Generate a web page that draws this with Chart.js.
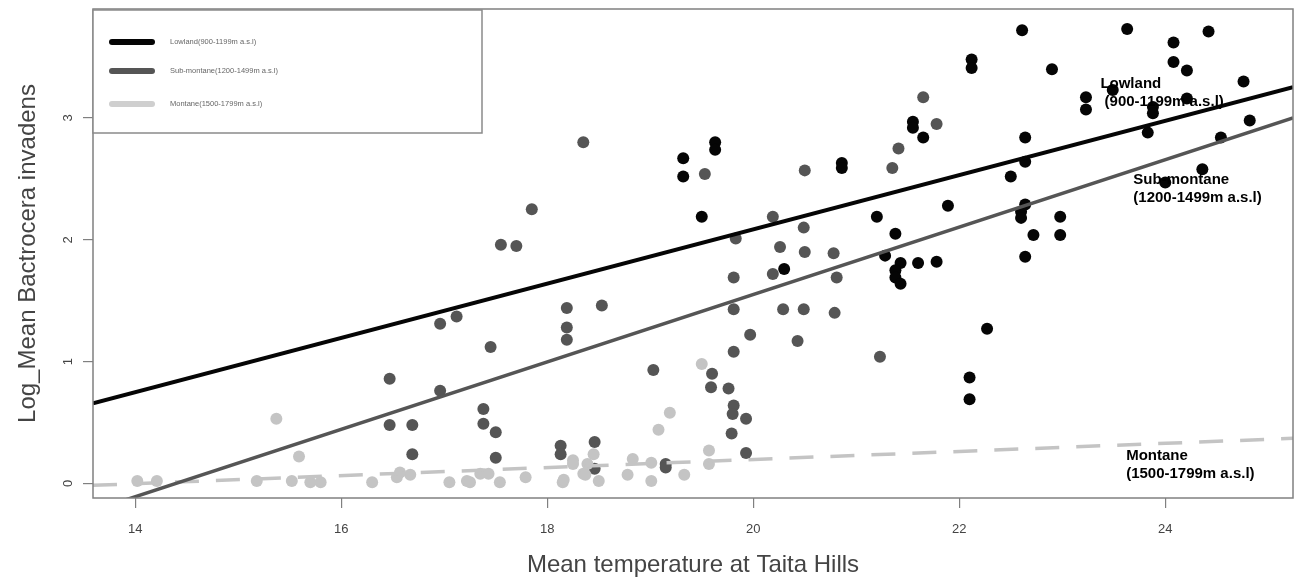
<!DOCTYPE html>
<html><head><meta charset="utf-8">
<script src="https://cdn.jsdelivr.net/npm/chart.js@4/dist/chart.umd.min.js"></script>
<style>html,body{margin:0;padding:0;background:#fff}</style>
</head><body>
<canvas id="c" width="1295" height="580"></canvas>
<script>
// ---- data ----
const seriesNames = ['Lowland(900-1199m a.s.l)', 'Sub-montane(1200-1499m a.s.l)', 'Montane(1500-1799m a.s.l)'];
const xTitle = 'Mean temperature at Taita Hills';
const yTitle = 'Log_Mean Bactrocera invadens';
const xTicks = [14, 16, 18, 20, 22, 24];
const yTicks = [0, 1, 2, 3];

const lowlandX = [22.61,23.63,24.42,24.08,24.08,24.21,22.12,22.12,22.90,24.76,23.23,23.23,23.49,24.21,23.88,23.88,24.82,23.83,24.54,24.36,24.00,22.64,22.64,22.50,21.55,21.55,21.65,20.86,20.86,21.89,21.20,21.38,22.64,22.60,22.60,22.98,22.72,22.98,22.64,20.30,21.43,21.38,21.38,21.43,21.60,21.78,21.28,22.27,22.10,22.10,19.63,19.63,19.32,19.32,19.50];
const lowlandY = [3.72,3.73,3.71,3.62,3.46,3.39,3.48,3.41,3.40,3.30,3.17,3.07,3.23,3.16,3.09,3.04,2.98,2.88,2.84,2.58,2.47,2.84,2.64,2.52,2.97,2.92,2.84,2.63,2.59,2.28,2.19,2.05,2.29,2.23,2.18,2.19,2.04,2.04,1.86,1.76,1.81,1.75,1.69,1.64,1.81,1.82,1.87,1.27,0.87,0.69,2.80,2.74,2.67,2.52,2.19];

const subX = [21.65,21.78,21.41,21.35,20.50,20.49,20.26,20.50,20.78,20.81,20.29,20.49,20.79,20.43,21.23,20.19,18.35,17.85,17.55,17.70,19.53,19.83,19.81,20.19,18.19,18.53,18.19,18.19,17.45,19.81,19.97,19.81,19.03,19.60,19.59,19.76,19.81,19.80,19.93,19.79,19.93,17.38,17.38,17.50,17.50,18.13,18.13,18.46,18.46,19.15,19.15,17.12,16.96,16.47,16.96,16.47,16.69,16.69];
const subY = [3.17,2.95,2.75,2.59,2.57,2.10,1.94,1.90,1.89,1.69,1.43,1.43,1.40,1.17,1.04,2.19,2.80,2.25,1.96,1.95,2.54,2.01,1.69,1.72,1.44,1.46,1.28,1.18,1.12,1.43,1.22,1.08,0.93,0.90,0.79,0.78,0.64,0.57,0.53,0.41,0.25,0.61,0.49,0.42,0.21,0.31,0.24,0.34,0.12,0.16,0.13,1.37,1.31,0.86,0.76,0.48,0.48,0.24];

const montX = [15.37,15.59,14.02,14.21,15.18,15.52,15.70,15.80,16.30,16.54,16.67,17.05,17.22,17.25,17.54,17.79,18.15,18.25,18.35,17.35,16.57,19.50,19.19,19.08,19.57,19.57,17.43,18.25,18.16,18.37,18.45,18.50,18.39,18.83,19.01,18.78,19.01,19.33];
const montY = [0.53,0.22,0.02,0.02,0.02,0.02,0.01,0.01,0.01,0.05,0.07,0.01,0.02,0.01,0.01,0.05,0.01,0.19,0.08,0.08,0.09,0.98,0.58,0.44,0.27,0.16,0.08,0.16,0.03,0.07,0.24,0.02,0.16,0.20,0.17,0.07,0.02,0.07];

// fitted regression lines, read at the two plot edges
const fitX = [13.59, 25.24];
const lowlandFit = [0.657, 3.254];
const subFit = [-0.223, 3.0];
const montFit = [-0.016, 0.37];

const annotations = [
  ['Lowland', ' (900-1199m a.s.l)'],
  ['Sub-montane', '(1200-1499m a.s.l)'],
  ['Montane', '(1500-1799m a.s.l)']
];

// ---- styles ----
const C_LOW = '#050505', C_SUB = '#555555', C_MON = '#c4c4c4';
const FONT = '"Liberation Sans", Arial, sans-serif';
const pts = (xs, ys) => xs.map((x, i) => ({x, y: ys[i]}));

const boxPlugin = {
  id: 'box',
  afterDraw(chart) {
    const {ctx, chartArea: a} = chart;
    ctx.save();
    ctx.strokeStyle = '#808080';
    ctx.lineWidth = 1.5;
    ctx.strokeRect(a.left, a.top, a.right - a.left, a.bottom - a.top);
    // legend box
    const lx = a.left, ly = a.top + 1, lw = 389, lh = 123;
    ctx.fillStyle = '#fff';
    ctx.fillRect(lx, ly, lw, lh);
    ctx.strokeStyle = '#8a8a8a';
    ctx.lineWidth = 1.5;
    ctx.strokeRect(lx, ly, lw, lh);
    const cols = [C_LOW, C_SUB, '#cfcfcf'];
    const ys = [32, 61, 94];
    ctx.lineCap = 'round';
    ctx.font = '7.5px ' + FONT;
    ctx.textBaseline = 'middle';
    seriesNames.forEach((n, i) => {
      ctx.strokeStyle = cols[i];
      ctx.lineWidth = 6;
      ctx.beginPath();
      ctx.moveTo(lx + 19, ly + ys[i]);
      ctx.lineTo(lx + 59, ly + ys[i]);
      ctx.stroke();
      ctx.fillStyle = '#666';
      ctx.fillText(n, lx + 77, ly + ys[i]);
    });
    ctx.restore();
  },
  afterDatasetsDraw(chart) {
    const {ctx} = chart;
    const xs = chart.scales.x, ys = chart.scales.y;
    // anchor of each label in data units
    const anchors = [[23.37, 3.28], [23.69, 2.49], [23.62, 0.23]];
    ctx.save();
    ctx.fillStyle = '#000';
    ctx.font = 'bold 15px ' + FONT;
    ctx.textBaseline = 'middle';
    annotations.forEach((lines, i) => {
      const px = xs.getPixelForValue(anchors[i][0]);
      const py = ys.getPixelForValue(anchors[i][1]);
      lines.forEach((t, j) => ctx.fillText(t, px, py + j * 18));
    });
    ctx.restore();
  }
};

new Chart(document.getElementById('c'), {
  type: 'scatter',
  data: {
    datasets: [
      {label: seriesNames[0] + ' fit', type: 'line', data: pts(fitX, lowlandFit), borderColor: C_LOW, borderWidth: 4, pointRadius: 0, fill: false, order: 0, clip: 0},
      {label: seriesNames[1] + ' fit', type: 'line', data: pts(fitX, subFit), borderColor: C_SUB, borderWidth: 3.5, pointRadius: 0, fill: false, order: 0, clip: 0},
      {label: seriesNames[2] + ' fit', type: 'line', data: pts(fitX, montFit), borderColor: C_MON, borderWidth: 3.5, borderDash: [24, 17], pointRadius: 0, fill: false, order: 0, clip: 0},
      {label: seriesNames[2], data: pts(montX, montY), backgroundColor: C_MON, borderWidth: 0, pointRadius: 6, order: 1},
      {label: seriesNames[1], data: pts(subX, subY), backgroundColor: C_SUB, borderWidth: 0, pointRadius: 6, order: 2},
      {label: seriesNames[0], data: pts(lowlandX, lowlandY), backgroundColor: C_LOW, borderWidth: 0, pointRadius: 6, order: 3}
    ]
  },
  options: {
    responsive: false,
    animation: false,
    devicePixelRatio: 1,
    layout: {autoPadding: false, padding: {top: 9, right: 2, left: 0, bottom: 0}},
    plugins: {legend: {display: false}, tooltip: {enabled: false}},
    scales: {
      x: {
        type: 'linear', min: 13.59, max: 25.24,
        afterBuildTicks(s) { s.ticks = xTicks.map(v => ({value: v})); },
        afterFit(s) { s.height = 82; s.paddingLeft = 0; s.paddingRight = 0; },
        border: {display: false},
        grid: {drawOnChartArea: false, drawTicks: true, tickLength: 10, color: '#808080', lineWidth: 1.2},
        ticks: {padding: 14, color: '#444', font: {size: 13, family: FONT}, maxRotation: 0},
        title: {display: true, text: xTitle, color: '#444', font: {size: 24, family: FONT}, padding: {top: 0, bottom: 0}}
      },
      y: {
        type: 'linear', min: -0.12, max: 3.895,
        afterBuildTicks(s) { s.ticks = yTicks.map(v => ({value: v})); },
        afterFit(s) { s.width = 93; s.paddingTop = 0; s.paddingBottom = 0; },
        border: {display: false},
        grid: {drawOnChartArea: false, drawTicks: true, tickLength: 10, color: '#808080', lineWidth: 1.2},
        ticks: {padding: 11, color: '#444', minRotation: 90, maxRotation: 90, crossAlign: 'center', font: {size: 13, family: FONT}},
        title: {display: true, text: yTitle, color: '#444', font: {size: 24, family: FONT}, padding: {top: 14, bottom: 0}}
      }
    }
  },
  plugins: [boxPlugin]
});
</script>
</body></html>
